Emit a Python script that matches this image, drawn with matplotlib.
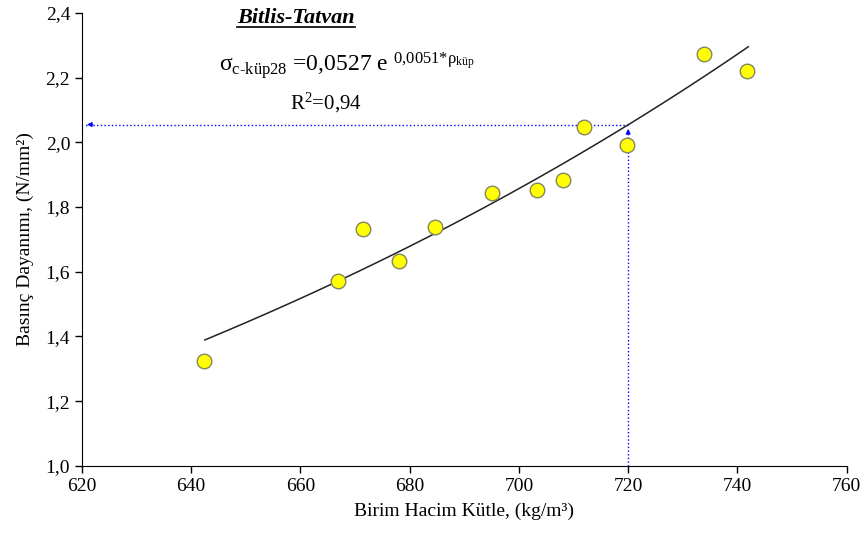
import matplotlib
matplotlib.use('Agg')
import matplotlib.pyplot as plt
import numpy as np
from matplotlib.lines import Line2D

plt.rcParams['font.family'] = ['Liberation Serif', 'DejaVu Serif']
plt.rcParams['mathtext.fontset'] = 'custom'
plt.rcParams['mathtext.rm'] = 'Liberation Serif'
plt.rcParams['mathtext.it'] = 'Liberation Serif:italic'
plt.rcParams['mathtext.bf'] = 'Liberation Serif:bold'

# measured points (birim hacim kutle, basinc dayanimi)
rho = [642.3, 666.9, 671.5, 678.0, 684.6, 695.0, 703.3, 708.0, 711.9, 719.7, 733.8, 741.7]
sigma = [1.324, 1.572, 1.732, 1.634, 1.739, 1.844, 1.853, 1.884, 2.048, 1.992, 2.273, 2.221]

# trendline as drawn on the chart (exponential fit)
a_coef = 0.0543
b_coef = 0.005046
fit_range = [642.5, 742.0]
read_x = 720
read_y = 2.055

xticks = [620, 640, 660, 680, 700, 720, 740, 760]
yticks = [1.0, 1.2, 1.4, 1.6, 1.8, 2.0, 2.2, 2.4]

fig = plt.figure(figsize=(8.63, 5.38), dpi=100)
ax = fig.add_axes([0.095, 0.134, 0.886, 0.842])

xf = np.linspace(fit_range[0], fit_range[1], 100)
ax.plot(xf, a_coef * np.exp(b_coef * xf), color='#222222', lw=1.1, zorder=2)
ax.scatter(rho, sigma, s=110, color='#ffff00', edgecolor='#858560', linewidth=1.0, zorder=3)

# dotted reading lines
ax.plot([read_x, 620.6], [read_y, read_y], color='blue', ls=':', lw=1.0, zorder=1)
ax.plot([read_x, read_x], [1.0, read_y - 0.01], color='blue', ls=':', lw=1.0, zorder=1)
ax.annotate('', xy=(620.4, read_y), xytext=(622.5, read_y),
            arrowprops=dict(arrowstyle='-|>', color='blue', lw=0.8, mutation_scale=7))
ax.annotate('', xy=(read_x, read_y - 0.005), xytext=(read_x, read_y - 0.04),
            arrowprops=dict(arrowstyle='-|>', color='blue', lw=0.8, mutation_scale=7))

ax.set_xlim(620, 760)
ax.set_ylim(1.0, 2.4)
ax.set_xticks(xticks)
ax.set_yticks(yticks)
ax.set_xticklabels([str(v) for v in xticks], fontsize=14)
ax.set_yticklabels([('%.1f' % v).replace('.', ',') for v in yticks], fontsize=14)
ax.tick_params(direction='out', length=5, width=1)
ax.spines['top'].set_visible(False)
ax.spines['right'].set_visible(False)
ax.set_xlabel('Birim Hacim Kütle, (kg/m³)', fontsize=14, labelpad=6)
ax.set_ylabel('Basınç Dayanımı, (N/mm²)', fontsize=14, labelpad=8)

t = fig.text(0.343, 0.966, 'Bitlis-Tatvan', fontsize=16, fontweight='bold', fontstyle='italic',
             ha='center', va='center')
fig.text(0.402, 0.878,
         r'$\mathrm{σ}_{\mathrm{c\text{-}küp28}}$ =0,0527 e $^{\mathrm{0{,}0051{*}ρ}_{\mathrm{küp}}}$',
         fontsize=17, ha='center', va='center')
fig.text(0.378, 0.808, 'R$^2$=0,94', fontsize=15, ha='center', va='center')

fig.canvas.draw()
bb = t.get_window_extent().transformed(fig.transFigure.inverted())
fig.add_artist(Line2D([bb.x0, bb.x1], [bb.y0 + 0.003, bb.y0 + 0.003], color='black', lw=1.2,
                      transform=fig.transFigure))

fig.savefig('out.png', dpi=100)
